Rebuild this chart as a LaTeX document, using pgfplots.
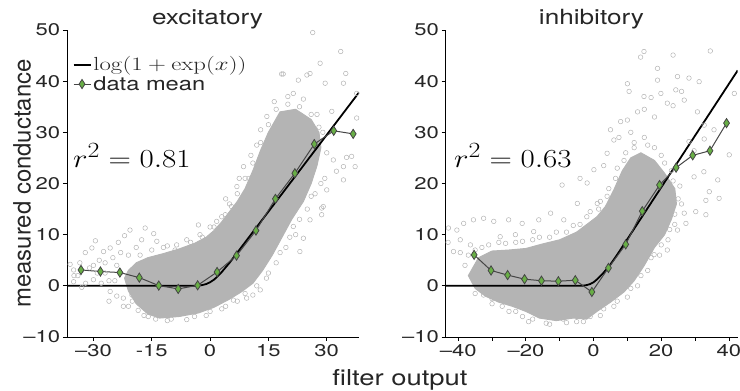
\documentclass[border=0pt]{standalone}
\usepackage{graphicx}
\usepackage{pgfplots}
\pgfplotsset{compat=1.18}
\usepackage[no-math]{fontspec}
\setmainfont{TeX Gyre Heros}
\definecolor{cloud}{HTML}{B4B4B4}
\definecolor{meangreen}{HTML}{68AE46}
\definecolor{meanline}{HTML}{454545}
\definecolor{txt}{HTML}{262626}
\pgfplotsset{
  panel/.style={
    scale only axis, width=292bp, height=307bp,
    axis lines=left, axis line style={-, line width=0.9bp},
    tick align=outside, major tick length=4bp,
    tick style={line width=0.8bp, black},
    ymin=-10, ymax=50, ytick={-10,0,...,50},
    yticklabels={--10,0,10,20,30,40,50},
    tick label style={font=\fontsize{17}{19}\selectfont, text=txt, xscale=1.3},
    yticklabel style={inner sep=2bp},
    clip=true,
  },
  sparse/.style={only marks, mark=o, mark size=2.3bp, mark options={draw=cloud, line width=0.5bp}, forget plot},
  dense/.style={fill=cloud, draw=cloud, line width=1bp, forget plot},
  fit/.style={black, line width=1.8bp, no marks,
    legend image code/.code={\draw[black, line width=2bp] (0bp,0bp) -- (17bp,0bp);}},
  means/.style={meanline, line width=1bp, mark=diamond*, mark size=4.6bp,
    mark options={fill=meangreen, draw=meanline, line width=0.8bp, xscale=0.85}},
}
\begin{document}
\begin{tikzpicture}
\path[use as bounding box] (0,0) rectangle (740bp,391bp);
% ---------------- excitatory ----------------
\begin{axis}[panel, at={(67bp,54bp)}, anchor=south west,
  xmin=-36.8, xmax=38.3, xtick={-30,-15,0,15,30},
  xticklabels={--30,-15,0,15,30},
  legend style={at={(0.008,0.925)}, anchor=north west, draw=none, fill=none,
    font=\fontsize{19}{21}\selectfont, text=txt, row sep=1bp,
    nodes={inner sep=1.5bp, xscale=1.25}},
  legend cell align=left]
\addplot[dense] coordinates {(-22,1.5) (-21,-1) (-19,-3.5) (-16,-5.5) (-13,-6.3) (-8,-6.0) (-3,-5.3) (1,-4.2) (5,-2.6) (8,-1.2) (11,0.5) (13.5,3) (16,6) (18.5,9.5) (21,13) (24,16.5) (26,20) (27.5,23.5) (28.5,27) (28,30) (26,32.5) (22,34.5) (18,34) (15,30) (13,26.5) (11,22.5) (9,19) (7,16.5) (5,14.5) (3,12.5) (1,10.8) (-1,9.5) (-4,8.3) (-8,7.2) (-12,6.3) (-16,5.5) (-19,4.5) (-21,3)} -- cycle;
\addplot[sparse] coordinates {(-35.1,3.1) (-32.1,6.5) (-30.4,7.4) (-27.4,6.7) (-25.7,7.4) (-23.6,8.5) (-20.6,10.9) (-16.7,11.3) (-17.6,9) (-13.7,8.7) (-8.6,8.0) (-3,11.9) (-2.6,10) (-35.1,0.8) (-30,1.2) (-25.7,-1.1) (-22.3,-2.4) (-20.1,-1.8) (-22.3,-4) (-15.9,-6.0) (1.7,12.6) (3.9,13.9) (12.9,-0.8) (9.4,-2.4) (24,9.3) (23.1,6.7) (28.7,15.2) (28.7,13.9) (25.7,12.9) (21.4,11.6) (28.3,43.5) (34.9,41.5) (18.4,41.4) (22.7,40.2) (24.9,41.2) (29.6,39.6) (34.3,39.6) (37.7,37.6) (36.4,25.3) (35.1,25.1) (37.3,23.3) (34.3,23.3) (31.7,24.6) (34.3,20.7) (30,18.75) (29.1,15.5) (32.5,22.4) (37.7,32.8) (31.3,34.1) (8.6,23.3) (6.9,19.4) (12,27.5) (14.6,33.1) (21.4,37.6) (25.7,41.5) (26.4,49.5) (33.6,45.8) (18.8,41.4) (-33.5,4.5) (-31,3.5) (-28.5,5) (-27,2.5) (-24,4) (-33,-0.3) (-28,0.5) (-24.5,1) (-21,6) (-19,7.5) (-11,7.8) (-6,9) (0,11.5) (5.5,15.5) (10,21) (-18.5,-4.8) (-11,-6.8) (-6,-6.6) (-1,-5.8) (4,-4) (7,-3) (11,-1.8) (14.5,1.5) (17,4.5) (19.5,7.5) (22,10) (25,15) (27,18) (29.5,21) (30,26) (29,30) (27.5,33.5) (24,36.5) (20,37) (16.5,36) (13,30.5) (10.5,25.5) (7.5,21) (4,17) (-34,2) (-36,4.2) (-29.5,8.8) (-22,9.8) (-14.5,10.2)
 (-20,-3) (-17,-5.8) (-14,-6.5) (-10,-6.5) (-4,-6) (0,-5) (3,-4.5) (6,-2.8) (9,-1.5) (12,0) (15,2.5) (18,6.5) (20.5,9.5) (23,13) (26,17.5) (28.5,20) (-18,6) (-15,7) (-12,7.5) (-9,7) (-5,8.5) (-2,9.5) (1,11.5) (3,13.5) (5,16) (7,18) (9,21) (11,24) (13,28) (15,31.5) (17,34.5) (20,35.5) (23,35) (26,33.5) (28,31) (-35,2) (-33,3) (-32,0.5) (-30,4) (-29,2.5) (-27,4.5) (-26,1) (-25,5.5) (-23,2.5) (-23,6.5) (-24,-2) (-26,-3) (-21,-4)};
\addplot[fit] coordinates {(-36.8,0) (-5,0) (-3,0.05) (-2,0.15) (-1,0.35) (0,0.7) (1,1.2) (2,1.9) (3,2.7) (4,3.6) (5,4.5) (7,6.5) (38.3,37.8)};
\addlegendentry{\fontsize{17.28}{20}\selectfont\scalebox{1.15}[1.1]{$\log(1+\exp(x))$}}
\addplot[means] coordinates {(-33.2,3.1) (-28.2,2.8) (-23.2,2.6) (-18.2,1.6) (-13.2,0.05) (-8.2,-0.6) (-3.2,0.1) (1.8,2.7) (6.8,5.9) (11.8,10.8) (16.8,17.0) (21.8,22.0) (26.8,27.7) (31.8,30.3) (36.8,29.7)};
\addlegendentry{data mean}
\node[anchor=base west, inner sep=0pt, xscale=1.25, yscale=1.05, font=\fontsize{24.88}{28}\selectfont] at (axis cs:-35.3,23.2) {$r^2 = 0.81$};
\end{axis}
% ---------------- inhibitory ----------------
\begin{axis}[panel, at={(445.7bp,54bp)}, anchor=south west,
  xmin=-43.7, xmax=42.6, xtick={-40,-30,...,40},
  xticklabels={--40,,--20,,0,,20,,40}]
\addplot[dense] coordinates {(-37,2) (-35,-0.5) (-32,-2) (-28,-3.2) (-24,-4) (-20,-5) (-16,-6.3) (-11,-6.8) (-6,-6.3) (-2,-6.5) (1,-5) (5,-3.2) (9,-1.2) (12,1) (15,4) (18,7.5) (21,10) (23,13) (24.5,16) (24,19) (21,22) (18,24.5) (14,26) (11,25) (8.5,22.5) (6,18.75) (3.5,15.5) (1,13.5) (-2,12) (-5,10.5) (-10,9) (-15,8.2) (-20,7.3) (-25,7) (-30,6.8) (-34,5.5)} -- cycle;
\addplot[sparse] coordinates {(-42.9,11.3) (-40.4,10.9) (-38.4,12.2) (-35.5,12.9) (-32.5,13.2) (-29.5,12.6) (-25.1,12.9) (-21.1,12.2) (-16.2,12.9) (-12.7,14.2) (-8.8,12.9) (-4.8,16.1) (-9.3,19.7) (-1.9,20.1) (1.1,16.1) (-39.4,9) (-41.4,6.7) (-39.4,6.5) (-36.4,8) (-33.5,3.8) (-34.5,1.8) (-32.5,-1.8) (-27.6,9.6) (-23.1,10) (-17.7,10.6) (-19.2,-7.0) (17.9,6.1) (18.9,9) (24.8,10.9) (26.8,14.2) (30.2,14.5) (33.2,13.9) (33.2,16.7) (37.1,17.1) (27.3,12.2) (21.8,7) (14.9,45.8) (13.9,44.7) (23.5,45.1) (34.5,45.9) (18.9,42.5) (10.5,38) (10,39.5) (18.9,40.2) (24.8,40.9) (28.2,40.6) (31.2,39.9) (14.9,37) (17,36.8) (19.9,37.6) (24.3,38.3) (26,38) (21.8,35.7) (23.5,35.2) (13,34) (15,34.5) (10,32.4) (18,33) (26.8,36.3) (30.7,34) (32.7,31.4) (35.6,30.5) (41.6,37.6) (40.1,25.6) (36.7,20.7) (34.2,18.4) (29.7,21.3) (32.6,22.3) (5,30.5) (0.1,22.7) (-4,21) (4,25.9) (6,28.5) (8,32.1) (28.2,28.2) (32.7,28.7) (29.7,26.4) (-43,8.5) (-37,6) (-30,-3.5) (-25,-5) (-21,-6) (-14,-7.3) (-8,-7.2) (-3,-7.0) (2,-5.8) (6,-4) (10,-2.2) (13,0) (16,3) (19.5,6) (22,9) (24,12) (26,16) (25.5,19.5) (23,22.5) (20,25.5) (16,27.5) (12,27) (9,24.5) (6.5,21) (4,17.5) (1.5,15) (-2,13.5) (-6,11.8) (-11,10.5) (-16,9.5) (-21,8.7) (-26,8.3) (-31,8) (-35,7) (-38,4) (7.5,29) (11,30) (3,23.5)
 (-35,-1.5) (-30,-2.5) (-27,-4) (-23,-5) (-18,-6.5) (-13,-7.5) (-9,-6.5) (-5,-7) (-1,-6) (3,-4.5) (7,-3) (11,-0.5) (14,2) (17,5.5) (20,8) (22.5,11) (24,14) (25,17) (-33,7.5) (-28,8.5) (-23,8.5) (-18,9) (-13,9.5) (-8,10.5) (-4,12) (-1,14.5) (2,16.5) (4.5,19) (7,23) (9.5,26) (12,28) (15,29) (18,27) (21,24) (23.5,20.5)};
\addplot[fit] coordinates {(-43.7,0) (-4,0) (-3,0.05) (-2,0.15) (-1,0.35) (0,0.7) (1,1.25) (2,1.9) (3,2.6) (4,3.4) (5,4.2) (7,6.1) (42.6,42.1)};
\addplot[means] coordinates {(-35.3,6.05) (-30.3,3.0) (-25.4,2.1) (-20.4,1.3) (-15.4,1.0) (-10.4,0.9) (-5.4,1.1) (-0.5,-1.2) (4.4,3.5) (9.5,8.1) (14.4,14.6) (19.5,19.7) (24.4,23.1) (29.3,25.5) (34.4,26.4) (39.3,31.8)};
\node[anchor=base west, inner sep=0pt, xscale=1.25, yscale=1.05, font=\fontsize{24.88}{28}\selectfont] at (axis cs:-41.3,23.2) {$r^2 = 0.63$};
\end{axis}
% ---------------- labels ----------------
\node[anchor=base, text=txt, xscale=1.25, font=\fontsize{21}{24}\selectfont] at (207.5bp,366bp) {excitatory};
\node[anchor=base, text=txt, xscale=1.25, font=\fontsize{21}{24}\selectfont] at (591.5bp,366bp) {inhibitory};
\node[anchor=base, text=txt, xscale=1.25, font=\fontsize{22}{25}\selectfont] at (400bp,6bp) {filter output};
\node[rotate=90, text=txt, font=\fontsize{24}{27}\selectfont] at (22bp,207.5bp) {measured conductance};
\end{tikzpicture}
\end{document}
